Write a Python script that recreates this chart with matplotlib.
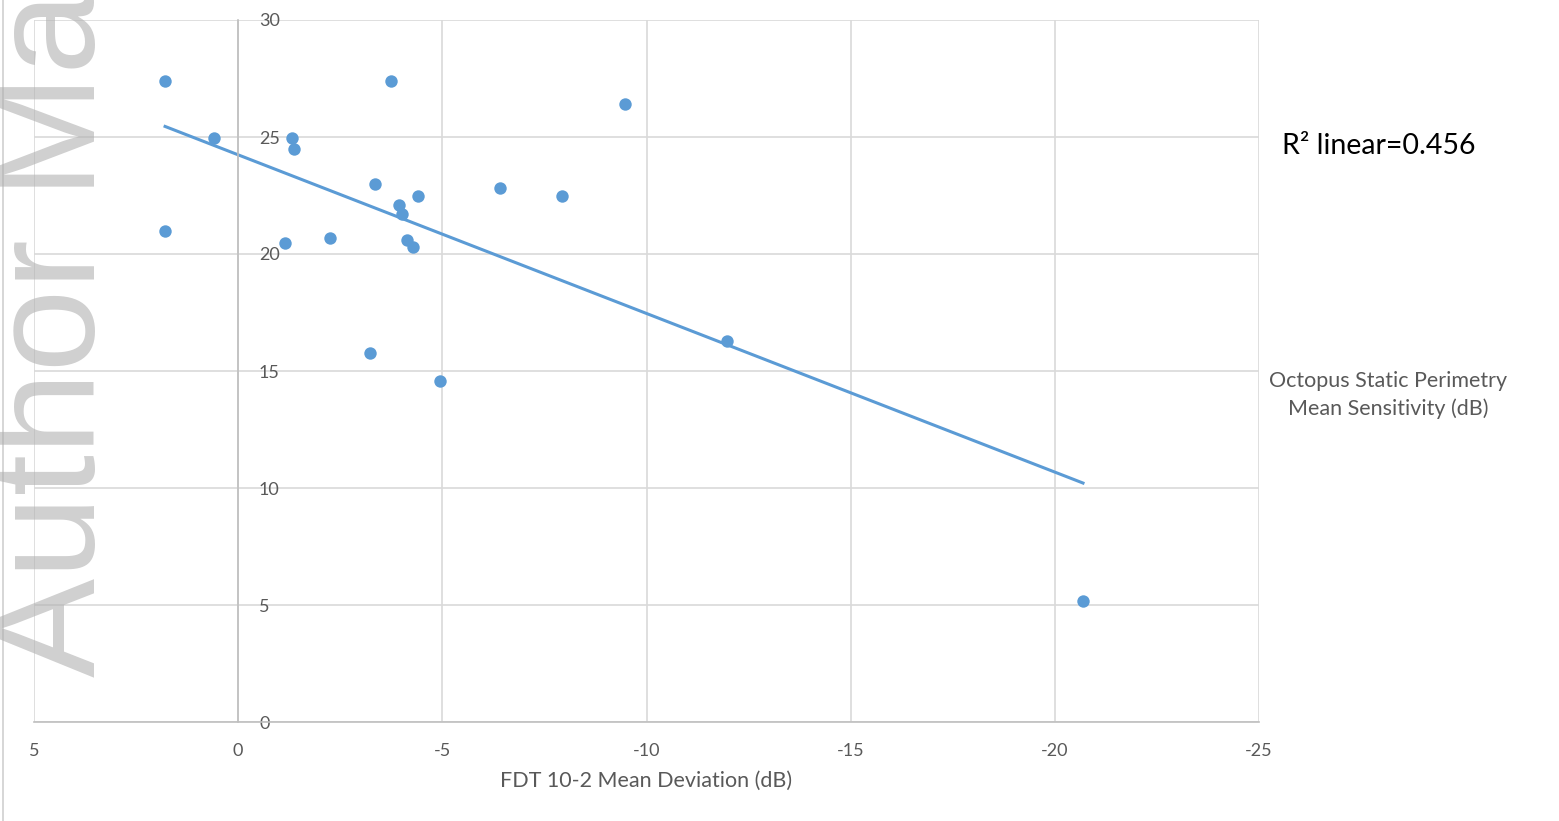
import numpy as np
import matplotlib.pyplot as plt
from matplotlib.lines import Line2D

# FDT 10-2 mean deviation (dB) vs Octopus mean sensitivity (dB)
fdt_md = [1.79, 1.79, 0.59, -1.32, -1.37, -1.15, -2.25, -3.35, -3.74, -3.94, -4.01,
          -4.14, -4.28, -4.40, -3.23, -4.94, -6.41, -7.93, -9.47, -11.97, -20.69]
octopus_ms = [27.39, 20.98, 24.96, 24.96, 24.49, 20.47, 20.68, 22.99, 27.39, 22.09, 21.71,
              20.60, 20.30, 22.48, 15.77, 14.57, 22.82, 22.48, 26.41, 16.28, 5.17]
x_ticks = [5, 0, -5, -10, -15, -20, -25]
y_ticks = [0, 5, 10, 15, 20, 25, 30]
r2_text = "R\u00b2 linear=0.456"

plt.rcParams['font.family'] = ['Lato', 'DejaVu Sans']

blue = '#5B9BD5'
tick_col = '#595959'

fig = plt.figure(figsize=(15.59, 8.21), dpi=100)
ax = fig.add_axes([34 / 1559, 1 - 722 / 821, (1259 - 34) / 1559, (722 - 20) / 821])

ax.set_xlim(5, -25)
ax.set_ylim(0, 30)
ax.set_xticks(x_ticks)
ax.set_yticks(y_ticks)
ax.grid(True, color='#d9d9d9', linewidth=1.2)
ax.set_axisbelow(True)

for side in ['top', 'left']:
    ax.spines[side].set_visible(False)
ax.spines['bottom'].set_color('#bfbfbf')
ax.spines['bottom'].set_linewidth(1.2)
# vertical axis crosses at x = 0, labels to its right
ax.spines['right'].set_position(('data', 0))
ax.spines['right'].set_color('#bfbfbf')
ax.spines['right'].set_linewidth(1.2)
ax.yaxis.tick_right()
ax.tick_params(axis='y', length=0, pad=15, labelsize=13, labelcolor=tick_col)
ax.tick_params(axis='x', length=0, pad=15, labelsize=13, labelcolor=tick_col)
ax.set_xticklabels([str(t) for t in x_ticks])

# scatter points and linear fit
ax.scatter(fdt_md, octopus_ms, s=80, color=blue, zorder=3, linewidths=0)
slope, intercept = np.polyfit(fdt_md, octopus_ms, 1)
xs = np.array([max(fdt_md), min(fdt_md)])
ax.plot(xs, slope * xs + intercept, color=blue, linewidth=2.2, zorder=2)

ax.set_xlabel("FDT 10-2 Mean Deviation (dB)", fontsize=15.5, color=tick_col, labelpad=9)

fig.text(1388 / 1559, 1 - 395 / 821, "Octopus Static Perimetry\nMean Sensitivity (dB)",
         ha='center', va='center', fontsize=15.5, color=tick_col, linespacing=1.45)
fig.text(1282 / 1559, 1 - 146 / 821, r2_text, ha='left', va='center', fontsize=20.5, color='black')

# watermark and page edge
fig.text(126 / 1559, 1 - 677 / 821, "Author Ma", rotation=90, ha='right', va='bottom',
         fontsize=107, color='#b0b0b0', alpha=0.6, family=['Liberation Sans'], zorder=5)
fig.add_artist(Line2D([3 / 1559, 3 / 1559], [0, 1], color='#d0d0d0', linewidth=1.2))

fig.savefig('out.png', dpi=100)
